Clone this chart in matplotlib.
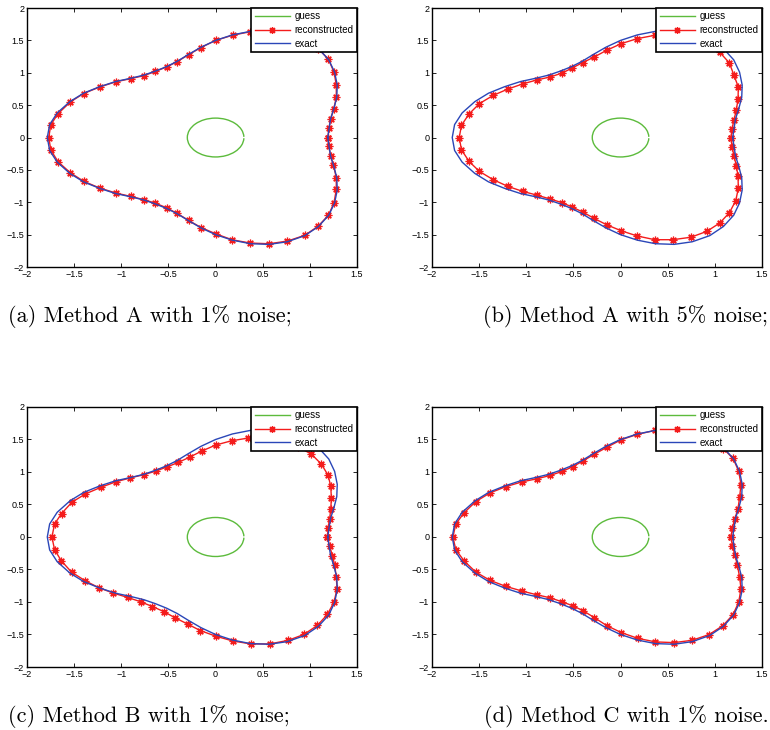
import numpy as np
import matplotlib
matplotlib.use("Agg")
from matplotlib import pyplot as plt
from matplotlib.patches import Arc
from matplotlib.lines import Line2D
from matplotlib.ticker import FixedLocator, FuncFormatter

# exact boundary (same in every panel)
exact_pts = [
    (1.19, 0.0), (1.203, 0.14), (1.22, 0.29), (1.253, 0.44), (1.285, 0.62),
    (1.29, 0.81), (1.262, 1.01), (1.2, 1.2), (1.09, 1.375), (0.946, 1.515),
    (0.76, 1.61), (0.568, 1.65), (0.37, 1.64), (0.178, 1.585), (0.0, 1.5),
    (-0.155, 1.395), (-0.286, 1.285), (-0.41, 1.175), (-0.52, 1.095),
    (-0.64, 1.025), (-0.76, 0.965), (-0.9, 0.915), (-1.06, 0.865),
    (-1.23, 0.785), (-1.4, 0.685), (-1.545, 0.555), (-1.68, 0.38),
    (-1.76, 0.2), (-1.785, 0.0),
    (-1.76, -0.2), (-1.68, -0.38), (-1.545, -0.555), (-1.4, -0.685),
    (-1.23, -0.785), (-1.06, -0.865), (-0.9, -0.915), (-0.76, -0.965),
    (-0.64, -1.025), (-0.52, -1.095), (-0.41, -1.175), (-0.286, -1.285),
    (-0.155, -1.395), (0.0, -1.5), (0.178, -1.585), (0.37, -1.64),
    (0.568, -1.65), (0.76, -1.61), (0.946, -1.515), (1.09, -1.375),
    (1.2, -1.2), (1.262, -1.01), (1.29, -0.81), (1.285, -0.62),
    (1.253, -0.44), (1.22, -0.29), (1.203, -0.14),
]

recon_a = [
    (1.19, 0.0), (1.203, 0.14), (1.22, 0.29), (1.253, 0.44), (1.28, 0.62),
    (1.28, 0.81), (1.256, 1.01), (1.196, 1.21), (1.09, 1.37), (0.94, 1.51),
    (0.77, 1.6), (0.57, 1.64), (0.37, 1.635), (0.18, 1.58), (0.0, 1.5),
    (-0.155, 1.39), (-0.286, 1.28), (-0.41, 1.17), (-0.52, 1.09),
    (-0.64, 1.02), (-0.76, 0.956), (-0.9, 0.91), (-1.06, 0.86),
    (-1.23, 0.78), (-1.4, 0.68), (-1.54, 0.55), (-1.67, 0.37),
    (-1.747, 0.2), (-1.77, 0.0),
    (-1.747, -0.195), (-1.67, -0.375), (-1.54, -0.545), (-1.4, -0.675),
    (-1.23, -0.78), (-1.06, -0.856), (-0.9, -0.91), (-0.76, -0.96),
    (-0.64, -1.013), (-0.52, -1.085), (-0.41, -1.17), (-0.286, -1.28),
    (-0.155, -1.39), (0.0, -1.486), (0.176, -1.58), (0.37, -1.63),
    (0.568, -1.64), (0.76, -1.6), (0.946, -1.51), (1.087, -1.37),
    (1.196, -1.2), (1.256, -1.01), (1.28, -0.8), (1.28, -0.62),
    (1.25, -0.43), (1.22, -0.28), (1.2, -0.13),
]

recon_b = [
    (1.171, 0.0), (1.182, 0.134), (1.203, 0.27), (1.228, 0.43), (1.246, 0.59),
    (1.249, 0.78), (1.203, 0.961), (1.154, 1.152), (1.05, 1.32), (0.9, 1.45),
    (0.73, 1.54), (0.55, 1.58), (0.363, 1.579), (0.176, 1.527), (0.007, 1.45),
    (-0.148, 1.347), (-0.279, 1.244), (-0.402, 1.157), (-0.512, 1.075),
    (-0.617, 0.997), (-0.745, 0.936), (-0.886, 0.89), (-1.034, 0.83),
    (-1.193, 0.75), (-1.348, 0.653), (-1.496, 0.525), (-1.606, 0.365),
    (-1.687, 0.19), (-1.711, 0.0),
    (-1.687, -0.19), (-1.606, -0.37), (-1.496, -0.524), (-1.348, -0.653),
    (-1.193, -0.756), (-1.034, -0.833), (-0.886, -0.89), (-0.745, -0.95),
    (-0.617, -1.008), (-0.512, -1.075), (-0.402, -1.15), (-0.279, -1.25),
    (-0.148, -1.347), (0.007, -1.44), (0.176, -1.52), (0.363, -1.578),
    (0.554, -1.578), (0.745, -1.54), (0.914, -1.45), (1.052, -1.32),
    (1.154, -1.162), (1.221, -0.977), (1.249, -0.787), (1.246, -0.6),
    (1.228, -0.437), (1.203, -0.28), (1.182, -0.14),
]

recon_c = [
    (1.186, 0.0), (1.193, 0.144), (1.21, 0.283), (1.221, 0.43), (1.228, 0.596),
    (1.221, 0.78), (1.193, 0.95), (1.122, 1.12), (1.016, 1.275), (0.87, 1.39),
    (0.71, 1.47), (0.53, 1.52), (0.346, 1.522), (0.169, 1.48), (0.0, 1.414),
    (-0.148, 1.321), (-0.275, 1.229), (-0.395, 1.147), (-0.512, 1.08),
    (-0.635, 1.013), (-0.758, 0.96), (-0.903, 0.91), (-1.059, 0.848),
    (-1.214, 0.766), (-1.38, 0.663), (-1.524, 0.535), (-1.634, 0.36),
    (-1.708, 0.2), (-1.736, 0.0),
    (-1.708, -0.195), (-1.637, -0.365), (-1.528, -0.54), (-1.383, -0.674),
    (-1.239, -0.78), (-1.083, -0.864), (-0.932, -0.93), (-0.794, -0.997),
    (-0.67, -1.07), (-0.55, -1.147), (-0.434, -1.24), (-0.296, -1.34),
    (-0.162, -1.44), (0.0, -1.525), (0.183, -1.6), (0.374, -1.645),
    (0.575, -1.645), (0.769, -1.59), (0.935, -1.5), (1.08, -1.36),
    (1.186, -1.19), (1.256, -1.0), (1.288, -0.797), (1.28, -0.617),
    (1.263, -0.437), (1.239, -0.29), (1.21, -0.144),
]

recon_d = [
    (1.171, 0.0), (1.186, 0.139), (1.21, 0.272), (1.246, 0.437), (1.263, 0.617),
    (1.277, 0.807), (1.253, 1.013), (1.193, 1.208), (1.09, 1.36), (0.94, 1.5),
    (0.77, 1.6), (0.57, 1.64), (0.367, 1.64), (0.176, 1.578), (0.007, 1.496),
    (-0.148, 1.378), (-0.282, 1.27), (-0.402, 1.167), (-0.508, 1.08),
    (-0.621, 1.008), (-0.748, 0.946), (-0.889, 0.895), (-1.044, 0.848),
    (-1.214, 0.776), (-1.383, 0.679), (-1.535, 0.545), (-1.658, 0.375),
    (-1.747, 0.2), (-1.778, 0.0),
    (-1.747, -0.195), (-1.658, -0.37), (-1.535, -0.54), (-1.383, -0.668),
    (-1.214, -0.761), (-1.041, -0.833), (-0.889, -0.889), (-0.745, -0.936),
    (-0.621, -0.997), (-0.505, -1.059), (-0.402, -1.131), (-0.279, -1.239),
    (-0.148, -1.362), (0.007, -1.47), (0.18, -1.558), (0.37, -1.614),
    (0.568, -1.625), (0.759, -1.589), (0.939, -1.501), (1.087, -1.362),
    (1.193, -1.193), (1.253, -1.003), (1.277, -0.797), (1.263, -0.617),
    (1.239, -0.437), (1.214, -0.283), (1.186, -0.139),
]

guess_radius = 0.3
x_ticks = [-2, -1.5, -1, -0.5, 0, 0.5, 1, 1.5]
y_ticks = [-2, -1.5, -1, -0.5, 0, 0.5, 1, 1.5, 2]
captions = [
    "(a) Method A with 1% noise;",
    "(b) Method A with 5% noise;",
    "(c) Method B with 1% noise;",
    "(d) Method C with 1% noise.",
]
recons = [recon_a, recon_b, recon_c, recon_d]

GREEN = "#5cbb3c"
RED = "#f41c1c"
BLUE = "#2a46b8"
TICK_FONT = ["Liberation Sans", "DejaVu Sans"]
SERIF_FONT = ["cmr10", "DejaVu Serif"]

plt.rcParams["axes.formatter.use_mathtext"] = True


def closed(pts):
    arr = np.asarray(pts + pts[:1])
    return arr[:, 0], arr[:, 1]


def tick_fmt(v, pos):
    return ("%g" % v).replace("-", "\u2212")


fig = plt.figure(figsize=(7.7, 7.3), dpi=100)

# axes boxes in figure fractions: (left, bottom, width, height)
boxes = [
    (0.0351, 0.6342, 0.4286, 0.3548),
    (0.5610, 0.6342, 0.4286, 0.3548),
    (0.0351, 0.0863, 0.4286, 0.3562),
    (0.5610, 0.0863, 0.4286, 0.3562),
]
caption_pos = [(0.0104, 0.566), (0.627, 0.566), (0.0104, 0.018), (0.628, 0.018)]

ex, ey = closed(exact_pts)

for box, rec, cap, cpos in zip(boxes, recons, captions, caption_pos):
    ax = fig.add_axes(box)
    ax.add_patch(Arc((0, 0), 2 * guess_radius, 2 * guess_radius,
                     theta1=2, theta2=358, color=GREEN, lw=1.0))
    rx, ry = closed(rec)
    ax.plot(rx, ry, color=RED, lw=1.0, marker=(8, 2, 0), ms=5.5, mew=0.9)
    ax.plot(ex, ey, color=BLUE, lw=1.0)

    ax.set_xlim(-2, 1.5)
    ax.set_ylim(-2, 2)
    ax.xaxis.set_major_locator(FixedLocator(x_ticks))
    ax.yaxis.set_major_locator(FixedLocator(y_ticks))
    ax.xaxis.set_major_formatter(FuncFormatter(tick_fmt))
    ax.yaxis.set_major_formatter(FuncFormatter(tick_fmt))
    ax.tick_params(direction="in", length=3, width=0.6, top=True, right=True,
                   labelsize=6.5, pad=2)
    for lab in ax.get_xticklabels() + ax.get_yticklabels():
        lab.set_family(TICK_FONT)
    for sp in ax.spines.values():
        sp.set_linewidth(1.0)

    handles = [
        Line2D([], [], color=GREEN, lw=1.0),
        Line2D([], [], color=RED, lw=1.0, marker=(8, 2, 0), ms=5, mew=0.9),
        Line2D([], [], color=BLUE, lw=1.0),
    ]
    leg = ax.legend(handles, ["guess", "reconstructed", "exact"],
                    loc="upper right", borderaxespad=0, fancybox=False,
                    framealpha=1, edgecolor="black", numpoints=1,
                    handlelength=3.6, handletextpad=0.5, labelspacing=0.38,
                    borderpad=0.35, prop={"family": TICK_FONT, "size": 7})
    leg.get_frame().set_linewidth(1.2)

    fig.text(cpos[0], cpos[1], cap, family=SERIF_FONT, fontsize=16,
             ha="left", va="center")

fig.savefig("out.png", dpi=100)
